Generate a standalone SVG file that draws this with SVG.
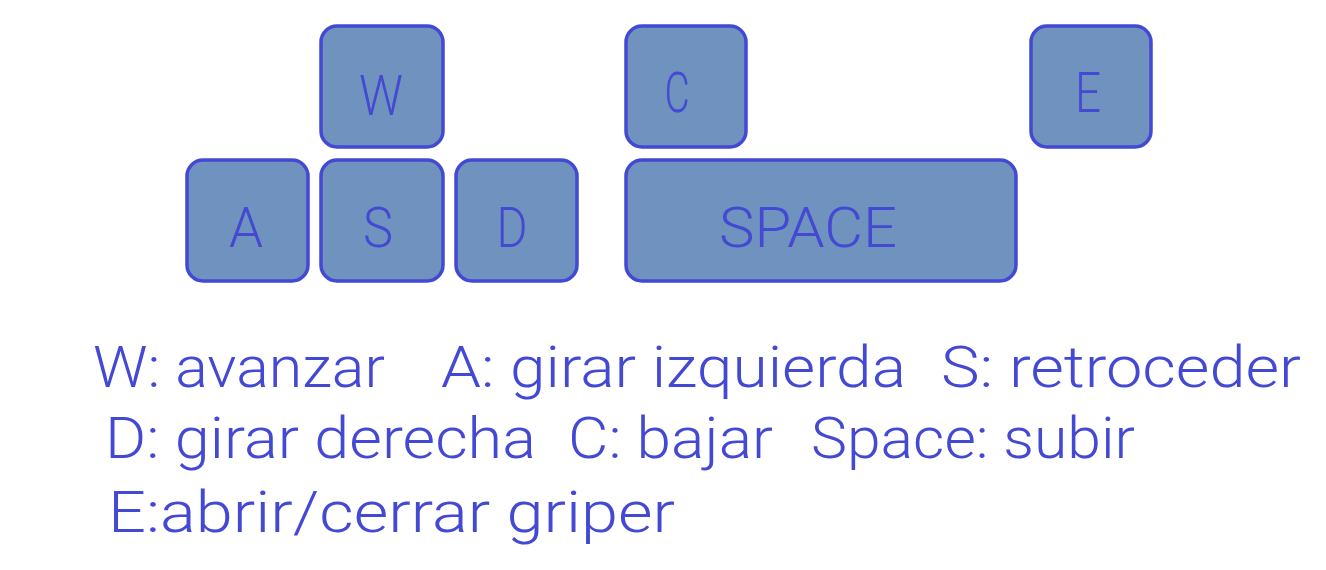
<svg xmlns="http://www.w3.org/2000/svg" width="1326" height="570" viewBox="0 0 1326 570">
<style>
.key{fill:#6f92bf;stroke:#4349d3;stroke-width:3.5}
.kt{font-family:Roboto,"DejaVu Sans",sans-serif;font-weight:300;font-size:56px;fill:#4349d3;text-anchor:middle}
.lt{font-family:Roboto,"DejaVu Sans",sans-serif;font-weight:300;font-size:58px;fill:#4349d3}
</style>
<rect width="1326" height="570" fill="#ffffff"/>
<g id="key-W"><rect class="key" x="321" y="26" width="122" height="121" rx="16"/><text class="kt" x="381" y="115" textLength="44" lengthAdjust="spacingAndGlyphs">W</text></g>
<g id="key-A"><rect class="key" x="187" y="160" width="121" height="121" rx="16"/><text class="kt" x="246" y="247" textLength="34" lengthAdjust="spacingAndGlyphs">A</text></g>
<g id="key-S"><rect class="key" x="321" y="160" width="122" height="121" rx="16"/><text class="kt" x="378" y="247" textLength="30" lengthAdjust="spacingAndGlyphs">S</text></g>
<g id="key-D"><rect class="key" x="456" y="160" width="121" height="121" rx="16"/><text class="kt" x="512" y="247" textLength="31" lengthAdjust="spacingAndGlyphs">D</text></g>
<g id="key-C"><rect class="key" x="626" y="26" width="120" height="121" rx="16"/><text class="kt" x="677" y="112" textLength="25" lengthAdjust="spacingAndGlyphs">C</text></g>
<g id="key-E"><rect class="key" x="1031" y="26" width="120" height="121" rx="16"/><text class="kt" x="1088" y="112" textLength="26" lengthAdjust="spacingAndGlyphs">E</text></g>
<g id="key-SPACE"><rect class="key" x="626" y="160" width="390" height="121" rx="16"/><text class="kt" x="808" y="247" textLength="178" lengthAdjust="spacingAndGlyphs">SPACE</text></g>
<g id="legend">
<text class="lt" x="93" y="387" textLength="292" lengthAdjust="spacingAndGlyphs">W: avanzar</text>
<text class="lt" x="441" y="387" textLength="465" lengthAdjust="spacingAndGlyphs">A: girar izquierda</text>
<text class="lt" x="941" y="387" textLength="360" lengthAdjust="spacingAndGlyphs">S: retroceder</text>
<text class="lt" x="105" y="458" textLength="431" lengthAdjust="spacingAndGlyphs">D: girar derecha</text>
<text class="lt" x="568" y="458" textLength="205" lengthAdjust="spacingAndGlyphs">C: bajar</text>
<text class="lt" x="811" y="458" textLength="324" lengthAdjust="spacingAndGlyphs">Space: subir</text>
<text class="lt" x="108" y="532" textLength="567" lengthAdjust="spacingAndGlyphs">E:abrir/cerrar griper</text>
</g>
</svg>
